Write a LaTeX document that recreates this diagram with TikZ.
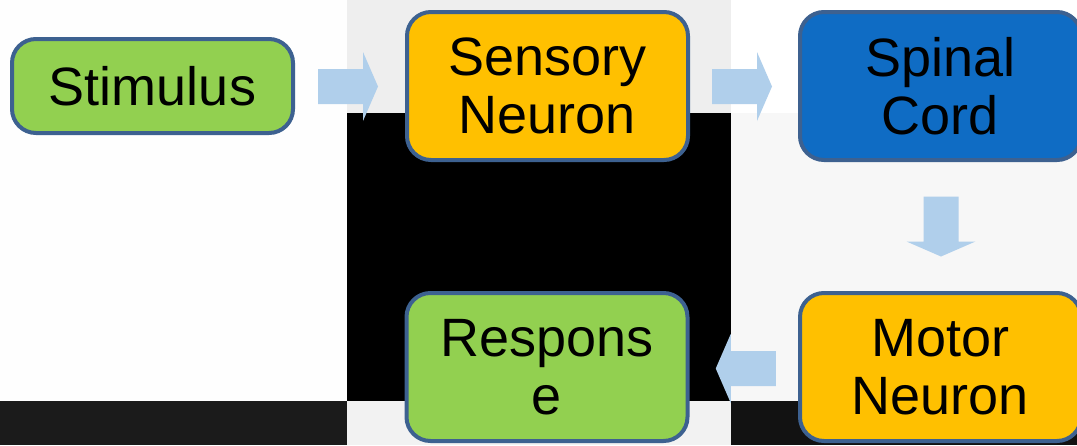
\documentclass[tikz,border=0pt]{standalone}
\usepackage{fontspec}
\setmainfont{Liberation Sans}
\usetikzlibrary{calc}
\definecolor{boxgreen}{HTML}{92D050}
\definecolor{boxorange}{HTML}{FFC000}
\definecolor{boxblue}{HTML}{0F6CC4}
\definecolor{boxline}{HTML}{3D6190}
\definecolor{arrowc}{HTML}{B0CFEB}
\definecolor{bgA}{HTML}{FEFEFE}
\definecolor{bgB}{HTML}{EEEEEE}
\definecolor{bgC}{HTML}{F7F7F7}
\definecolor{bgD}{HTML}{1B1B1B}
\definecolor{bgE}{HTML}{F2F2F2}
\definecolor{bgF}{HTML}{121212}
\tikzset{
  stepbox/.style={draw=boxline, line width=4pt, rounded corners=24pt,
    minimum width=281pt, align=center, inner sep=0pt,
    font=\fontsize{54}{58}\selectfont, text=black},
  blockarrow/.style={fill=arrowc, draw=none}
}
\begin{document}
\begin{tikzpicture}[x=1pt,y=-1pt]
\clip (0,0) rectangle (1077,445);
% background panels
\fill[bgA] (0,0) rectangle (347,401);
\fill[bgD] (0,401) rectangle (347,445);
\fill[bgB] (347,0) rectangle (731,113);
\fill[black] (347,113) rectangle (731,401);
\fill[bgE] (347,401) rectangle (731,445);
\fill[white] (731,0) rectangle (1077,113);
\fill[bgC] (731,113) rectangle (1077,401);
\fill[bgF] (731,401) rectangle (1077,445);
% nodes
\node[stepbox, fill=boxgreen, minimum height=94pt] (stim) at (152.5,86) {Stimulus};
\node[stepbox, fill=boxorange, minimum height=148pt] (sens) at (547.5,86) {Sensory\\Neuron};
\node[stepbox, fill=boxblue, minimum height=148pt] (spin) at (940.5,86) {Spinal\\Cord};
\node[stepbox, fill=boxorange, minimum height=148pt] (motor) at (940.5,367) {Motor\\Neuron};
\node[stepbox, fill=boxgreen, minimum height=148pt] (resp) at (547,367) {Respons\\e};
% block arrows
\coordinate (a1) at ($(stim.east)!0.5!(sens.west)+(-2,0.5)$);
\coordinate (a2) at ($(sens.east)!0.5!(spin.west)+(-2,0.5)$);
\coordinate (a3) at ($(spin.south)!0.5!(motor.north)+(0.5,0)$);
\coordinate (a4) at ($(resp.east)!0.5!(motor.west)+(2,1.5)$);
\fill[blockarrow] (a1) ++(-30,-17.5) -- ++(45,0) -- ++(0,-17) -- ++(15,34.5) -- ++(-15,34.5) -- ++(0,-17) -- ++(-45,0) -- cycle;
\fill[blockarrow] (a2) ++(-30,-17.5) -- ++(45,0) -- ++(0,-17) -- ++(15,34.5) -- ++(-15,34.5) -- ++(0,-17) -- ++(-45,0) -- cycle;
\fill[blockarrow] (a3) ++(-17.5,-30) -- ++(0,45) -- ++(-17,0) -- ++(34.5,15) -- ++(34.5,-15) -- ++(-17,0) -- ++(0,-45) -- cycle;
\fill[blockarrow] (a4) ++(30,-17.5) -- ++(-45,0) -- ++(0,-17) -- ++(-15,34.5) -- ++(15,34.5) -- ++(0,-17) -- ++(45,0) -- cycle;
\end{tikzpicture}
\end{document}
